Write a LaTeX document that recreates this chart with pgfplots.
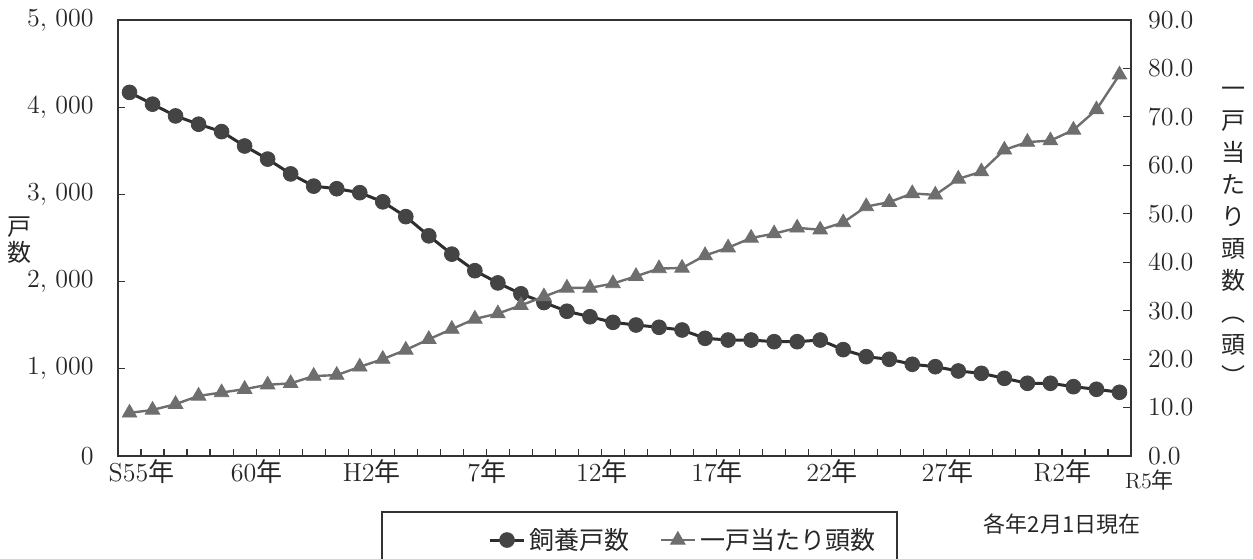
\documentclass[border=0pt]{standalone}
\usepackage{fontspec}
\newfontfamily\jp{Noto Sans CJK JP}
\usepackage{pgfplots}
\pgfplotsset{compat=1.18}
\usepackage{pgfplotstable}

\pgfplotstableread{
i hh
0 4170
1 4035
2 3900
3 3805
4 3720
5 3555
6 3405
7 3235
8 3095
9 3065
10 3020
11 2915
12 2745
13 2525
14 2315
15 2125
16 1985
17 1860
18 1760
19 1660
20 1597
21 1533
22 1502
23 1476
24 1445
25 1350
26 1330
27 1330
28 1311
29 1311
30 1330
31 1220
32 1139
33 1109
34 1052
35 1024
36 975
37 948
38 891
39 834
40 834
41 795
42 765
43 731
}\hhdata

\pgfplotstableread{
i hd
0 8.9
1 9.5
2 10.7
3 12.4
4 13.1
5 13.8
6 14.7
7 15.0
8 16.5
9 16.7
10 18.4
11 20.0
12 21.9
13 24.1
14 26.2
15 28.3
16 29.4
17 31.1
18 32.9
19 34.7
20 34.7
21 35.6
22 37.1
23 38.7
24 38.8
25 41.4
26 43.0
27 45.0
28 45.9
29 47.1
30 46.7
31 48.2
32 51.5
33 52.4
34 54.2
35 53.9
36 57.2
37 58.7
38 63.2
39 64.8
40 65.1
41 67.3
42 71.5
43 78.7
}\hddata

\definecolor{cdark}{HTML}{444444}
\definecolor{cline}{HTML}{2E2E2E}
\definecolor{cgray}{HTML}{6E6E6E}
\definecolor{cframe}{HTML}{333333}

\begin{document}
\begin{tikzpicture}
\pgfplotsset{
  base/.style={
    scale only axis, width=506.5pt, height=218pt,
    at={(0pt,0pt)}, anchor=south west,
    xmin=-0.5, xmax=43.5,
    tick align=inside,
    tick label style={font=\fontsize{13}{15}\selectfont, text=black!85},
    axis line style={cframe, line width=0.7pt},
    every tick/.style={cframe, line width=0.6pt},
  }
}
\begin{axis}[base,
  ymin=0, ymax=5000,
  ytick={0,1000,2000,3000,4000,5000},
  yticklabels={0,{1,\ 000},{2,\ 000},{3,\ 000},{4,\ 000},{5,\ 000}},
  ytick pos=left,
  major tick length=3.6pt,
  yticklabel style={xshift=-8.7pt},
  xtick={-0.5,0.5,...,43.5},
  xticklabels={,,},
  xtick pos=bottom,
  extra x ticks={0,5,10,15,20,25,30,35,40,43},
  extra x tick labels={S55{\jp 年},60{\jp 年},H2{\jp 年},7{\jp 年},12{\jp 年},17{\jp 年},22{\jp 年},27{\jp 年},R2{\jp 年},{\hspace*{18pt}\rule{0pt}{14.5pt}\fontsize{11}{13}\selectfont R5{\jp 年}}},
  extra x tick style={major tick length=0pt, xticklabel style={xshift=6pt, yshift=2pt}},
  legend style={at={(0.3653,-0.1927)}, anchor=west, draw=none, fill=none,
    inner sep=0pt, font=\jp\fontsize{12.5}{14}\selectfont, text=black!85,
    /tikz/every even column/.append style={column sep=13pt}},
  legend columns=2,
]
\addplot[cline, line width=1.5pt, mark=*, mark size=3.7pt,
  mark options={fill=cdark, draw=cdark, line width=0.4pt}] table[x=i,y=hh]{\hhdata};
\addlegendentry{飼養戸数}
\addlegendimage{cgray, line width=1.2pt, mark=triangle*, mark size=4.2pt,
  mark options={fill=cgray, draw=cgray, line width=0.4pt}}
\addlegendentry{一戸当たり頭数}
\end{axis}

\begin{axis}[base,
  ymin=0, ymax=90,
  axis y line*=right, axis x line=none,
  ytick={0,10,20,30,40,50,60,70,80,90},
  yticklabels={0.0,10.0,20.0,30.0,40.0,50.0,60.0,70.0,80.0,90.0},
  major tick length=4pt,
  yticklabel style={xshift=5pt},
]
\addplot[cgray, line width=1.2pt, mark=triangle*, mark size=4.2pt,
  mark options={fill=cgray, draw=cgray, line width=0.4pt}] table[x=i,y=hd]{\hddata};
\end{axis}

\draw[cframe, line width=0.6pt] (132pt,-70pt) rectangle (389.5pt,-28pt);
\node[font=\jp\fontsize{12}{13}\selectfont, text=black!85, align=center] at (-49pt,108pt) {戸\\数};
\node[font=\jp\fontsize{12}{16}\selectfont, text=black!85, align=center] at (557.5pt,110pt)
  {一\\戸\\当\\た\\り\\頭\\数\\︵\\頭\\︶};
\node[font=\jp\fontsize{11}{13}\selectfont, text=black!85] at (472pt,-34pt) {各年2月1日現在};

\pgfresetboundingbox
\useasboundingbox (-59pt,-51pt) rectangle (567.5pt,228pt);
\end{tikzpicture}
\end{document}
